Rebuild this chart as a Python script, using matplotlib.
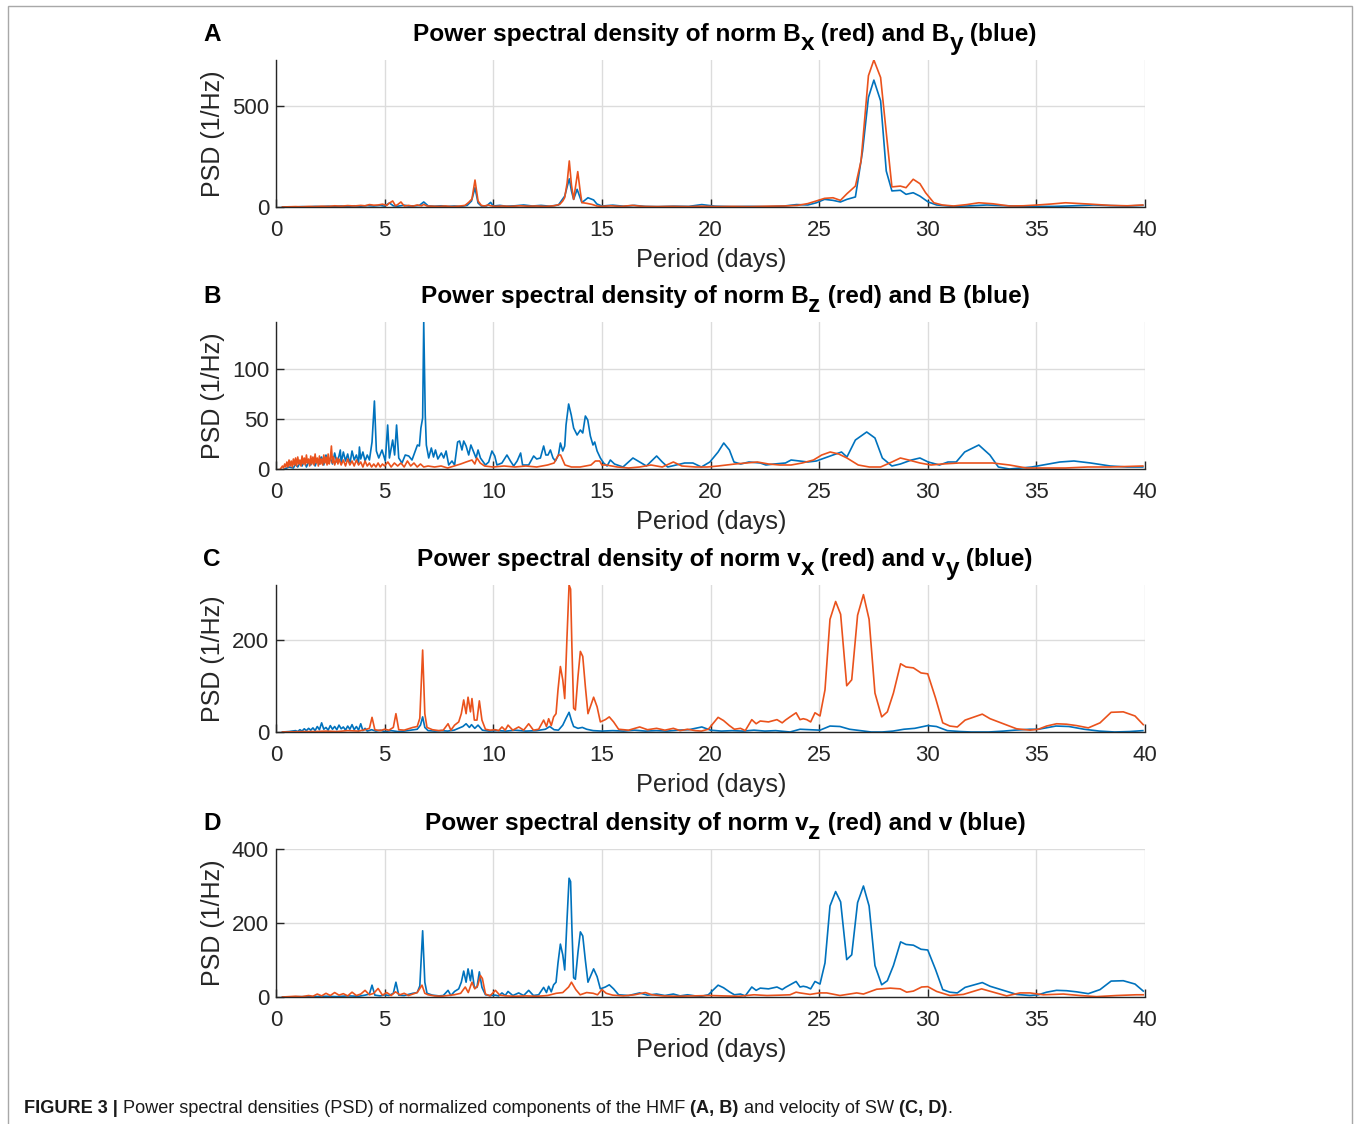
import matplotlib
matplotlib.use('Agg')
import matplotlib.pyplot as plt
from matplotlib.patches import Rectangle

plt.rcParams['font.family'] = ['Liberation Sans', 'DejaVu Sans']

RED = '#EA521C'
BLUE = '#0072BD'
AXC = '#262626'

# ---------------- data: (period in days, PSD in 1/Hz) ----------------
bx_psd = [(0.3,0),(0.6,1),(0.9,2),(1.2,1),(1.5,3),(1.8,2),(2.1,4),(2.4,3),(2.7,6),(3.0,4),(3.3,7),(3.6,5),(3.9,8),(4.1,6),(4.3,12),(4.5,9),(4.7,10),(4.9,14),(5.1,8),(5.2,18),(5.37,30),(5.5,6),(5.6,12),(5.75,25),(5.9,5),(6.1,8),(6.3,4),(6.5,10),(6.7,6),(6.8,13),(6.95,5),(7.2,4),(7.5,3),(7.8,5),(8.1,2),(8.4,4),(8.7,8),(8.87,23),(9.02,40),(9.16,134),(9.3,30),(9.45,8),(9.6,5),(9.76,10),(9.9,6),(10.1,3),(10.4,5),(10.8,3),(11.2,6),(11.6,4),(12.0,5),(12.4,3),(12.8,6),(13.06,13),(13.2,30),(13.29,47),(13.4,120),(13.5,229),(13.6,110),(13.7,38),(13.8,110),(13.89,176),(14.0,80),(14.08,22),(14.31,18),(14.54,13),(14.77,5),(15.0,3),(15.4,6),(15.9,3),(16.4,8),(16.9,3),(17.5,2),(18.2,3),(19.0,2),(19.6,4),(20.3,2),(21.0,3),(21.8,2),(22.6,4),(23.4,5),(24.0,8),(24.48,17),(24.87,30),(25.25,43),(25.64,46),(25.98,33),(26.28,66),(26.67,104),(26.93,229),(27.27,653),(27.52,731),(27.83,644),(28.09,370),(28.35,100),(28.74,104),(29.0,96),(29.33,138),(29.64,116),(29.9,71),(30.28,21),(30.67,10),(31.19,5),(31.8,12),(32.35,21),(33.0,16),(33.76,5),(34.4,6),(35.05,10),(35.7,15),(36.34,21),(37.37,15),(38.4,8),(39.18,6),(39.9,10)]

by_psd = [(0.3,0),(0.6,1),(0.9,0),(1.2,2),(1.5,1),(1.8,3),(2.1,2),(2.4,4),(2.7,2),(3.0,5),(3.3,3),(3.6,6),(3.9,4),(4.2,7),(4.5,5),(4.8,8),(5.0,4),(5.22,20),(5.4,6),(5.6,4),(5.9,9),(6.1,5),(6.4,6),(6.6,8),(6.8,25),(7.0,6),(7.3,4),(7.6,6),(7.9,3),(8.2,5),(8.5,3),(8.8,8),(9.0,30),(9.16,96),(9.3,20),(9.45,5),(9.7,6),(9.88,23),(10.0,5),(10.3,8),(10.6,4),(11.0,6),(11.4,10),(11.8,5),(12.2,8),(12.6,4),(13.0,10),(13.29,54),(13.4,100),(13.5,140),(13.6,80),(13.7,38),(13.86,88),(14.08,22),(14.36,46),(14.62,35),(14.77,15),(15.0,5),(15.5,9),(16.0,4),(16.5,8),(17.0,3),(17.6,2),(18.3,4),(19.0,3),(19.6,12),(20.2,4),(21.0,2),(21.8,3),(22.6,2),(23.4,5),(23.96,12),(24.48,10),(24.87,21),(25.25,38),(25.64,33),(25.98,25),(26.28,38),(26.67,50),(27.0,279),(27.27,545),(27.52,631),(27.83,528),(28.09,179),(28.35,80),(28.74,83),(29.0,63),(29.33,71),(29.64,54),(30.02,25),(30.41,10),(31.19,3),(32.0,6),(32.73,10),(33.4,7),(34.02,5),(35.0,3),(35.82,3),(36.7,6),(37.63,10),(38.4,7),(39.18,5),(39.9,8)]

bz_psd = [(0.2,0),(0.3,3),(0.35,1),(0.4,5),(0.45,2),(0.5,7),(0.55,2),(0.6,9),(0.65,3),(0.7,8),(0.75,2),(0.8,10),(0.85,4),(0.9,11),(0.95,3),(1.0,12),(1.05,5),(1.1,9),(1.15,3),(1.2,13),(1.25,5),(1.3,11),(1.35,4),(1.4,14),(1.45,6),(1.5,10),(1.55,3),(1.6,13),(1.65,5),(1.7,12),(1.75,4),(1.8,15),(1.85,6),(1.9,11),(1.95,3),(2.0,13),(2.05,5),(2.1,10),(2.15,4),(2.2,14),(2.25,6),(2.3,12),(2.35,4),(2.4,15),(2.45,5),(2.5,10),(2.55,23),(2.6,6),(2.65,12),(2.7,4),(2.8,11),(2.85,5),(2.9,10),(3.0,4),(3.1,9),(3.2,3),(3.3,10),(3.4,4),(3.5,8),(3.6,3),(3.7,9),(3.8,4),(3.9,7),(4.0,2),(4.1,8),(4.2,3),(4.3,6),(4.4,2),(4.5,5),(4.6,2),(4.7,6),(4.8,2),(4.9,5),(5.0,3),(5.15,7),(5.3,2),(5.45,6),(5.6,3),(5.75,6),(5.9,2),(6.05,8),(6.2,3),(6.35,6),(6.5,2),(6.65,5),(6.8,2),(7.0,3),(7.3,2),(7.6,3),(7.9,1),(8.2,3),(8.5,5),(8.75,7),(9.02,9),(9.15,5),(9.25,11),(9.4,6),(9.6,3),(10.0,2),(10.5,3),(11.0,2),(11.5,3),(12.0,2),(12.5,4),(12.8,6),(13.0,14),(13.1,14),(13.3,4),(13.6,2),(14.0,2),(14.5,4),(14.7,8),(14.9,8),(15.0,4),(15.2,4),(15.71,2),(16.23,1),(16.74,2),(17.26,4),(17.78,2),(18.29,7),(18.68,3),(19.32,2),(19.84,2),(20.35,3),(21.13,5),(21.64,6),(22.16,7),(22.67,5),(23.19,4),(23.71,4),(24.22,6),(24.74,9),(25.12,14),(25.51,17),(25.9,15),(26.28,11),(26.8,4),(27.31,2),(27.83,2),(28.35,7),(28.74,11),(29.12,9),(29.64,6),(30.15,4),(30.67,5),(31.44,6),(32.22,6),(32.99,6),(33.76,4),(34.54,1),(35.31,1),(36.34,1),(37.37,2),(38.4,2),(39.9,3)]

b_psd = [(0.4,0),(0.6,2),(0.8,1),(0.9,5),(1.0,2),(1.1,6),(1.2,3),(1.3,8),(1.4,2),(1.5,7),(1.6,4),(1.7,10),(1.8,3),(1.9,9),(2.0,5),(2.04,11),(2.1,12),(2.2,4),(2.3,14),(2.4,6),(2.5,11),(2.6,5),(2.7,16),(2.8,7),(2.9,13),(2.96,19),(3.0,6),(3.1,17),(3.2,8),(3.3,15),(3.4,5),(3.5,18),(3.6,9),(3.7,14),(3.8,6),(3.84,22),(3.9,10),(4.0,17),(4.1,8),(4.2,14),(4.3,9),(4.42,27),(4.53,68),(4.62,18),(4.73,11),(4.88,19),(5.03,8),(5.14,44),(5.22,11),(5.37,29),(5.46,14),(5.55,44),(5.65,11),(5.8,6),(5.95,14),(6.11,13),(6.26,9),(6.41,18),(6.51,24),(6.6,23),(6.67,41),(6.75,51),(6.8,147),(6.87,54),(6.92,24),(7.03,11),(7.15,21),(7.25,12),(7.34,19),(7.45,10),(7.61,16),(7.72,11),(7.83,18),(7.95,4),(8.1,8),(8.22,4),(8.36,27),(8.45,28),(8.56,19),(8.64,28),(8.75,23),(8.87,14),(8.97,24),(9.08,18),(9.21,11),(9.3,19),(9.41,11),(9.64,4),(9.79,7),(9.94,18),(10.07,13),(10.17,4),(10.4,6),(10.63,14),(10.79,8),(10.94,3),(11.1,8),(11.26,16),(11.35,4),(11.63,4),(11.86,13),(12.0,10),(12.17,11),(12.32,23),(12.42,14),(12.52,14),(12.63,19),(12.75,11),(12.86,8),(13.0,14),(13.09,26),(13.2,18),(13.29,23),(13.35,44),(13.47,65),(13.59,54),(13.7,41),(13.86,34),(14.01,39),(14.12,36),(14.24,53),(14.35,49),(14.47,33),(14.59,24),(14.67,27),(14.78,18),(14.93,11),(15.08,6),(15.24,3),(15.39,9),(15.58,5),(15.97,2),(16.43,11),(16.74,7),(17.05,3),(17.52,13),(17.78,7),(18.03,2),(18.42,4),(18.81,6),(19.19,6),(19.58,2),(19.97,7),(20.35,17),(20.61,26),(20.87,19),(21.08,7),(21.39,5),(21.77,7),(22.29,6),(22.55,4),(22.93,5),(23.45,6),(23.71,9),(24.09,8),(24.48,7),(24.87,8),(25.25,11),(25.64,14),(26.03,17),(26.28,12),(26.67,29),(27.19,37),(27.57,31),(27.91,11),(28.35,3),(28.74,5),(29.25,9),(29.64,11),(30.02,7),(30.54,4),(30.93,7),(31.31,7),(31.7,17),(32.35,24),(32.86,14),(33.25,2),(33.76,0),(34.28,1),(34.79,2),(35.31,4),(36.08,7),(36.73,8),(37.5,6),(38.4,3),(39.18,2),(39.9,2)]

vx_psd = [(0.3,0),(0.8,0.5),(1.3,1),(1.8,1),(2.3,2),(2.8,1),(3.3,3),(3.8,2),(4.1,5),(4.3,8),(4.42,32),(4.55,5),(4.8,3),(5.0,6),(5.2,4),(5.4,10),(5.52,40),(5.65,5),(5.9,4),(6.1,7),(6.3,10),(6.5,12),(6.62,30),(6.75,179),(6.85,40),(6.95,10),(7.2,5),(7.5,3),(7.7,4),(7.92,18),(8.05,4),(8.22,15),(8.41,22),(8.53,40),(8.64,70),(8.75,40),(8.84,76),(8.95,44),(9.02,73),(9.13,26),(9.25,26),(9.36,68),(9.48,26),(9.64,6),(9.85,4),(10.1,5),(10.25,3),(10.4,11),(10.55,4),(10.68,15),(10.9,4),(11.17,11),(11.4,4),(11.63,18),(11.85,4),(12.09,6),(12.32,26),(12.45,12),(12.55,29),(12.67,14),(12.78,33),(12.89,40),(12.98,92),(13.09,143),(13.2,114),(13.29,73),(13.39,202),(13.49,321),(13.56,312),(13.62,187),(13.7,52),(13.78,48),(13.9,121),(14.01,176),(14.12,165),(14.24,99),(14.36,40),(14.47,55),(14.62,76),(14.78,55),(14.93,22),(15.16,27),(15.34,33),(15.54,22),(15.77,6),(16.23,4),(16.74,11),(17.1,5),(17.52,8),(17.9,4),(18.29,8),(18.6,3),(18.94,6),(19.3,3),(19.58,2),(19.9,6),(20.35,32),(20.6,25),(20.87,14),(21.1,6),(21.38,8),(21.6,3),(21.9,27),(22.1,18),(22.29,24),(22.67,22),(23.06,27),(23.3,20),(23.45,26),(23.66,33),(23.94,42),(24.12,27),(24.27,29),(24.43,27),(24.61,22),(24.81,42),(25.04,35),(25.27,92),(25.5,246),(25.76,285),(25.99,257),(26.27,101),(26.5,114),(26.77,255),(27.04,300),(27.3,246),(27.57,85),(27.88,33),(28.14,44),(28.42,85),(28.75,149),(29.0,142),(29.34,140),(29.69,129),(30.0,127),(30.36,74),(30.69,20),(31.02,13),(31.36,11),(31.72,26),(32.51,39),(32.87,29),(33.48,18),(34.09,7),(34.71,4),(35.09,6),(35.47,13),(35.93,18),(36.39,17),(36.85,14),(37.39,9),(37.93,20),(38.44,43),(39.0,44),(39.54,35),(39.92,16)]

vy_psd = [(0.3,0),(0.6,1),(0.9,3),(1.0,1),(1.1,5),(1.2,2),(1.3,7),(1.4,3),(1.5,8),(1.6,4),(1.7,9),(1.8,3),(1.9,12),(2.0,5),(2.1,20),(2.2,6),(2.3,10),(2.4,4),(2.5,14),(2.6,6),(2.7,12),(2.8,5),(2.9,15),(3.0,7),(3.1,11),(3.2,4),(3.3,13),(3.4,6),(3.5,16),(3.6,5),(3.7,12),(3.8,4),(3.9,18),(4.0,3),(4.1,8),(4.2,2),(4.4,5),(4.6,2),(4.8,4),(5.0,1),(5.3,3),(5.6,1),(5.9,2),(6.2,4),(6.5,6),(6.65,15),(6.75,33),(6.85,10),(7.0,3),(7.3,2),(7.6,3),(7.9,2),(8.2,4),(8.4,8),(8.6,12),(8.75,18),(8.9,10),(9.0,16),(9.15,8),(9.3,15),(9.5,4),(9.8,2),(10.2,3),(10.6,2),(11.0,4),(11.5,2),(12.0,3),(12.4,6),(12.6,12),(12.8,5),(13.0,4),(13.2,15),(13.35,30),(13.49,43),(13.6,25),(13.7,12),(13.9,8),(14.1,10),(14.3,6),(14.6,3),(15.0,2),(15.5,3),(16.0,2),(16.5,4),(17.0,2),(17.5,3),(18.0,2),(18.5,4),(19.0,5),(19.6,11),(20.0,4),(20.5,2),(21.0,3),(21.5,2),(22.0,4),(22.5,2),(23.0,3),(23.66,0),(24.12,6),(24.58,5),(25.04,4),(25.5,13),(25.96,12),(26.4,6),(26.9,3),(27.4,0),(27.9,0),(28.4,2),(28.9,6),(29.4,8),(30.0,14),(30.4,12),(30.9,3),(31.5,1),(32.0,0),(32.8,0),(33.5,2),(34.0,4),(34.7,6),(35.1,6),(35.9,13),(36.5,12),(37.2,6),(37.9,2),(38.6,0),(39.3,1),(39.9,3)]

vz_psd = [(0.3,0),(0.6,1),(0.9,2),(1.2,1),(1.5,4),(1.7,2),(1.9,8),(2.1,3),(2.3,10),(2.5,4),(2.7,12),(2.9,5),(3.1,9),(3.3,3),(3.5,13),(3.7,4),(3.9,8),(4.1,18),(4.3,6),(4.5,10),(4.7,23),(4.9,5),(5.1,12),(5.3,4),(5.5,14),(5.7,6),(5.9,10),(6.1,4),(6.3,8),(6.5,12),(6.72,32),(6.85,10),(7.0,6),(7.3,3),(7.6,2),(7.9,4),(8.2,6),(8.5,10),(8.71,27),(8.85,12),(9.02,40),(9.15,22),(9.28,30),(9.41,58),(9.5,50),(9.64,8),(9.85,3),(10.1,18),(10.3,5),(10.6,3),(11.0,2),(11.5,3),(12.0,2),(12.5,4),(12.9,10),(13.2,12),(13.47,27),(13.6,40),(13.7,30),(13.8,20),(14.0,6),(14.3,12),(14.6,10),(14.8,6),(15.0,20),(15.2,10),(15.5,5),(16.0,3),(16.5,6),(17.0,12),(17.3,6),(17.8,3),(18.5,2),(19.2,3),(20.0,4),(20.6,3),(21.3,2),(22.0,6),(22.6,4),(23.2,5),(23.66,6),(23.94,13),(24.12,11),(24.58,7),(25.01,11),(25.35,11),(25.96,4),(26.73,11),(27.04,8),(27.65,21),(28.27,24),(28.73,22),(29.03,13),(29.34,16),(29.72,27),(30.0,28),(30.41,15),(31.02,4),(31.64,7),(32.48,22),(33.02,13),(33.63,3),(34.25,11),(34.71,11),(35.32,6),(36.24,8),(37.01,4),(37.77,1),(38.69,4),(39.6,6),(39.92,6)]

# PSD of |v| coincides with that of vx in the figure
v_psd = vx_psd

x_ticks = [0, 5, 10, 15, 20, 25, 30, 35, 40]

# titles as (text, is_subscript) pieces
panels = [
    dict(letter='A', red=bx_psd, blue=by_psd, yticks=[0, 500], ymax=None,
         title=[('Power spectral density of norm B', False), ('x', True),
                (' (red) and B', False), ('y', True), (' (blue)', False)]),
    dict(letter='B', red=bz_psd, blue=b_psd, yticks=[0, 50, 100], ymax=None,
         title=[('Power spectral density of norm B', False), ('z', True),
                (' (red) and B (blue)', False)]),
    dict(letter='C', red=vx_psd, blue=vy_psd, yticks=[0, 200], ymax=None,
         title=[('Power spectral density of norm v', False), ('x', True),
                (' (red) and v', False), ('y', True), (' (blue)', False)]),
    dict(letter='D', red=vz_psd, blue=v_psd, yticks=[0, 200, 400], ymax=400,
         title=[('Power spectral density of norm v', False), ('z', True),
                (' (red) and v (blue)', False)]),
]

# ---------------- layout (pixels) ----------------
W, H = 1354, 1124
fig = plt.figure(figsize=(W / 100, H / 100), dpi=100)
fig.patch.set_facecolor('white')
renderer = fig.canvas.get_renderer()

LEFT, RIGHT = 276, 1145
tops = [60, 322, 585, 849]
bottoms = [207, 469, 732, 997]
TITLE_FS = 17.6


def place_pieces(pieces, center_x, baseline_y, fs, sub_drop):
    widths = []
    for txt, sub in pieces:
        t = fig.text(0, 0, txt, fontsize=fs, fontweight='bold')
        widths.append(t.get_window_extent(renderer=renderer).width)
        t.remove()
    x = center_x - sum(widths) / 2
    for (txt, sub), w in zip(pieces, widths):
        y = baseline_y + (sub_drop if sub else 0)
        fig.text(x / W, 1 - y / H, txt, ha='left', va='baseline', fontsize=fs,
                 fontweight='bold', color='black')
        x += w


for p, top, bot in zip(panels, tops, bottoms):
    ax = fig.add_axes([LEFT / W, 1 - bot / H, (RIGHT - LEFT) / W, (bot - top) / H])
    bper, bval = zip(*p['blue'])
    rper, rval = zip(*p['red'])
    ax.plot(bper, bval, color=BLUE, lw=1.2, zorder=3)
    ax.plot(rper, rval, color=RED, lw=1.2, zorder=4)
    ax.set_xlim(0, 40)
    ymax = p['ymax'] if p['ymax'] else max(max(bval), max(rval))
    ax.set_ylim(0, ymax)
    ax.set_xticks(x_ticks)
    ax.set_yticks(p['yticks'])
    ax.grid(True, color='#DCDCDC', lw=1.0)
    ax.set_axisbelow(True)
    for s in ['top', 'right']:
        ax.spines[s].set_visible(False)
    for s in ['left', 'bottom']:
        ax.spines[s].set_color(AXC)
        ax.spines[s].set_linewidth(1.0)
        ax.spines[s].set_zorder(5)
    ax.tick_params(direction='in', length=6, width=1.0, colors=AXC,
                   labelsize=16, labelcolor=AXC)
    ax.tick_params(axis='x', pad=9.5)
    ax.tick_params(axis='y', pad=5)

    place_pieces(p['title'], 725, top - 19, TITLE_FS, 9)
    fig.text(203 / W, 1 - (top - 19) / H, p['letter'], ha='left', va='baseline',
             fontsize=17.5, fontweight='bold', color='black')
    fig.text(711 / W, 1 - (bot + 53) / H, 'Period (days)', ha='center', va='center',
             fontsize=18.2, color=AXC)
    fig.text(213 / W, 1 - ((top + bot) / 2) / H, 'PSD (1/Hz)', ha='center', va='center',
             rotation=90, fontsize=18, color=AXC)

# outer frame
fig.patches.append(Rectangle((8 / W, -0.01), (1352 - 8) / W, 1 - 6 / H + 0.01,
                             transform=fig.transFigure, fill=False,
                             edgecolor='#A8A8A8', lw=1.0))

# caption built from pieces
pieces = [('FIGURE 3 | ', 'bold'),
          ('Power spectral densities (PSD) of normalized components of the HMF ', 'normal'),
          ('(A, B)', 'bold'),
          (' and velocity of SW ', 'normal'),
          ('(C, D)', 'bold'),
          ('.', 'normal')]
xpos = 24
for txt, wt in pieces:
    t = fig.text(xpos / W, 1 - 1113 / H, txt, ha='left', va='baseline',
                 fontsize=13.1, fontweight=wt, color='#1a1a1a')
    bb = t.get_window_extent(renderer=renderer)
    xpos += bb.width

fig.savefig('out.png', dpi=100, facecolor='white')
